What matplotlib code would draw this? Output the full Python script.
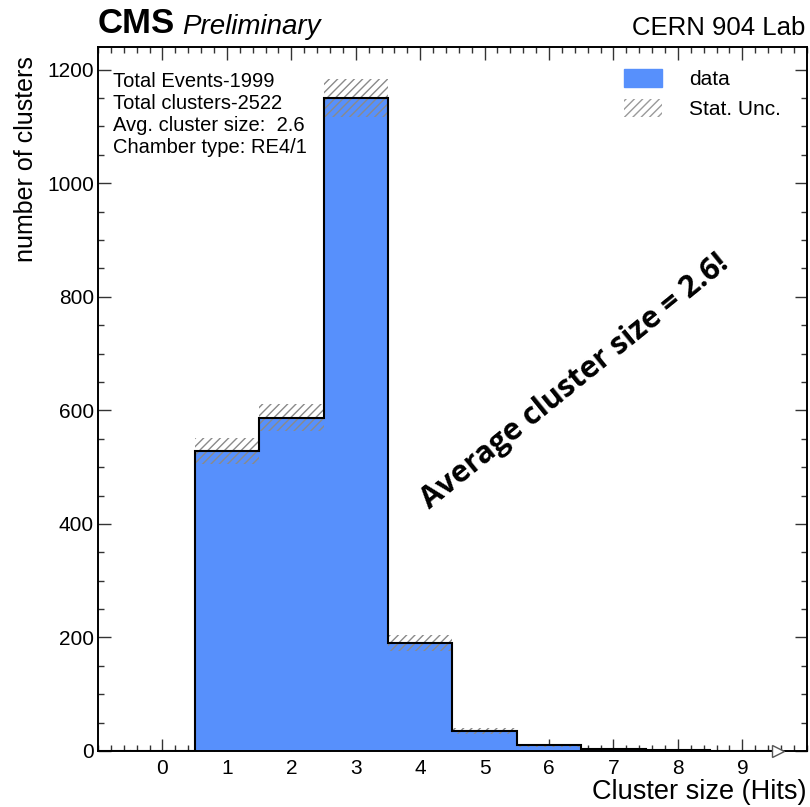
import numpy as np
import matplotlib
matplotlib.use("Agg")
import matplotlib.pyplot as plt
from matplotlib.patches import Patch
from matplotlib.ticker import MultipleLocator

plt.rcParams['font.family'] = ['Liberation Sans', 'DejaVu Sans']
plt.rcParams['hatch.linewidth'] = 1.0
plt.rcParams['hatch.color'] = '#8a8a8a'

# Cluster-size histogram (bin centres 0..9)
cluster_size = [0, 1, 2, 3, 4, 5, 6, 7, 8, 9]
counts = [0, 528, 587, 1150, 190, 35, 10, 4, 1.5, 0.5]
info_lines = ["Total Events-1999", "Total clusters-2522",
              "Avg. cluster size:  2.6", "Chamber type: RE4/1"]
x_ticks = [0, 1, 2, 3, 4, 5, 6, 7, 8, 9]

fill_color = '#5790fc'

fig = plt.figure(figsize=(8.10, 8.07), dpi=100)
ax = fig.add_axes([0.121, 0.0694, 0.875, 0.8724])

centres = np.array(cluster_size, dtype=float)
vals = np.array(counts, dtype=float)
edges = np.append(centres - 0.5, centres[-1] + 0.5)
err = np.sqrt(vals)

# filled histogram with black outline
ax.stairs(vals, edges, fill=True, color=fill_color, zorder=2)
ax.stairs(vals, edges, fill=False, color='black', linewidth=1.5, zorder=4)
ax.plot([-1, edges[0]], [0, 0], color='black', linewidth=1.5, zorder=4)

# statistical uncertainty band
ax.stairs(vals + err, edges, baseline=vals - err, fill=True,
          facecolor='none', edgecolor='#8a8a8a', hatch='////',
          linewidth=0, zorder=3)

# open arrow head at the end of the histogram range
ax.plot([edges[-1] + 0.05], [0], marker='>', markersize=8,
        markerfacecolor='white', markeredgecolor='#555555', zorder=5,
        clip_on=False)

ax.set_xlim(-1, 10)
ax.set_ylim(0, 1240)
ax.set_xticks(x_ticks)
ax.set_yticks([0, 200, 400, 600, 800, 1000, 1200])
ax.xaxis.set_minor_locator(MultipleLocator(0.2))
ax.yaxis.set_minor_locator(MultipleLocator(50))
ax.tick_params(which='both', direction='in', top=True, right=True,
               labelsize=15, width=1.0, color='#333333')
ax.tick_params(which='major', length=9)
ax.tick_params(which='minor', length=4.5)
ax.tick_params(axis='x', which='major', pad=6)
ax.tick_params(axis='y', which='major', pad=3)
for s in ax.spines.values():
    s.set_linewidth(1.4)

ax.set_xlabel('Cluster size (Hits)', fontsize=19.5, ha='right')
ax.xaxis.set_label_coords(1.0, -0.04, transform=ax.transAxes)
ax.xaxis.label.set_va('top')
ax.set_ylabel('number of clusters', fontsize=18, ha='right')
ax.yaxis.set_label_coords(-0.085, 0.987, transform=ax.transAxes)

# header labels
ax.text(0.0, 1.01, 'CMS', transform=ax.transAxes, fontsize=25,
        fontweight='bold', ha='left', va='bottom')
ax.text(0.118, 1.01, 'Preliminary', transform=ax.transAxes, fontsize=20,
        fontstyle='italic', ha='left', va='bottom')
ax.text(0.998, 1.01, 'CERN 904 Lab', transform=ax.transAxes, fontsize=18.5,
        ha='right', va='bottom')

# run information
ax.text(0.021, 0.965, "\n".join(info_lines), transform=ax.transAxes,
        fontsize=14.5, ha='left', va='top', linespacing=1.2)

# legend
handles = [Patch(facecolor=fill_color, edgecolor=fill_color, label='data'),
           Patch(facecolor='none', edgecolor='#9a9a9a', hatch='////',
                 linewidth=0, label='Stat. Unc.')]
ax.legend(handles=handles, loc='upper right', bbox_to_anchor=(0.99, 0.995),
          frameon=False, fontsize=15, handlelength=1.8, handleheight=0.9,
          handletextpad=1.3, labelspacing=0.5)

# annotation
ax.text(0.673, 0.524, 'Average cluster size = 2.6!', transform=ax.transAxes,
        fontsize=22, fontweight='bold', family=['Open Sans', 'DejaVu Sans'],
        rotation=39, ha='center', va='center', rotation_mode='anchor')

fig.savefig('out.png', dpi=100)
